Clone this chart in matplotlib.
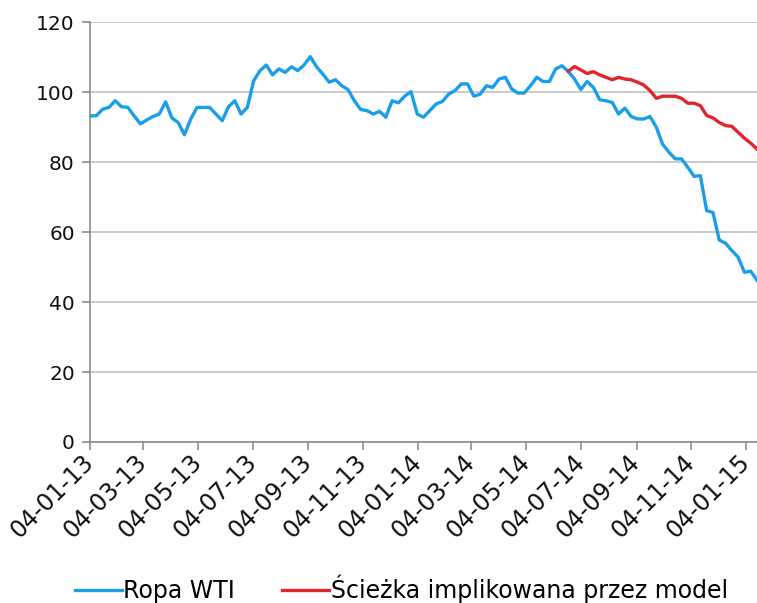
#!/usr/bin/env python3
"""
Ropa WTI vs ścieżka implikowana przez model (dane tygodniowe 2013-2015).
"""
import matplotlib
matplotlib.use("Agg")
import matplotlib.pyplot as plt
import matplotlib.dates as mdates
import pandas as pd

# --- dane (notowania tygodniowe od 04-01-2013) ---
start_date = "2013-01-04"

wti = [
    93.2, 93.2, 95.1, 95.6, 97.5, 95.8, 95.6, 93.2, 90.9, 92.0,
    93.0, 93.7, 97.2, 92.6, 91.3, 87.8, 92.3, 95.6, 95.6, 95.6,
    93.7, 91.8, 95.8, 97.5, 93.7, 95.6, 103.2, 106.1, 107.7, 104.9,
    106.6, 105.6, 107.2, 106.1, 107.7, 110.1, 107.2,
    105.1, 102.8, 103.5, 101.8, 100.7, 97.5, 95.0, 94.7, 93.7, 94.5,
    92.8, 97.5, 96.9, 98.8, 100.1, 93.7, 92.8, 94.7, 96.6, 97.3,
    99.4, 100.4, 102.3, 102.3, 98.8, 99.4, 101.8, 101.3, 103.7,
    104.2, 100.9, 99.7, 99.7, 101.8, 104.2,
    103.0, 103.0, 106.6, 107.5, 105.9, 103.7, 100.7, 103.0, 101.3, 97.8,
    97.5, 97.0, 93.7, 95.4, 93.0, 92.3, 92.3, 93.0, 89.9, 85.1,
    82.8, 80.9, 80.9, 78.5, 75.9, 76.1, 66.1, 65.6, 57.7, 56.8,
    54.7, 52.8, 48.5, 48.8, 46.2,
]

# ścieżka modelu zaczyna się od 31. notowania od końca
model = [
    105.9, 107.3, 106.3, 105.3, 105.8, 104.9, 104.2, 103.5, 104.2, 103.7,
    103.5, 102.8, 102.0, 100.4, 98.2, 98.8, 98.8, 98.8, 98.2, 96.8,
    96.8, 96.1, 93.3, 92.6, 91.3, 90.4, 90.2, 88.5, 86.8, 85.4,
    83.7,
]

y_ticks = [0, 20, 40, 60, 80, 100, 120]

BLUE = "#1a9ee8"
RED = "#e0252c"
GRID = "#c6c6c6"
AXIS = "#8c8c8c"


def main():
    dates = pd.date_range(start_date, periods=len(wti), freq="7D")
    model_dates = dates[len(wti) - len(model):]

    plt.rcParams["font.family"] = ["DejaVu Sans"]
    fig = plt.figure(figsize=(7.57, 6.03), dpi=100)
    ax = fig.add_axes([0.119, 0.267, 0.881, 0.6965])

    ax.plot(dates, wti, color=BLUE, lw=2.4, label="Ropa WTI", zorder=3)
    ax.plot(model_dates, model, color=RED, lw=2.4,
            label="Ścieżka implikowana przez model", zorder=3)

    ax.set_ylim(0, 120)
    ax.set_yticks(y_ticks)
    ax.set_xlim(dates[0], dates[-1])

    # osie co 2 miesiące, etykiety dd-mm-yy
    ax.xaxis.set_major_locator(mdates.MonthLocator(bymonth=[1, 3, 5, 7, 9, 11], bymonthday=4))
    ax.xaxis.set_major_formatter(mdates.DateFormatter("%d-%m-%y"))

    ax.grid(axis="y", color=GRID, lw=1.3, zorder=0)
    for side in ("top", "right"):
        ax.spines[side].set_visible(False)
    for side in ("left", "bottom"):
        ax.spines[side].set_color(AXIS)
        ax.spines[side].set_linewidth(1.2)

    ax.tick_params(axis="both", colors=AXIS, length=6, width=1.2,
                   labelcolor="#111111", labelsize=14.5, pad=5)
    ax.tick_params(axis="x", labelsize=17, pad=6)
    for lbl in ax.get_xticklabels():
        lbl.set_rotation(45)
        lbl.set_ha("right")
        lbl.set_va("center")
        lbl.set_rotation_mode("anchor")

    fig.legend(loc="lower center", bbox_to_anchor=(0.53, -0.035), ncol=2,
               frameon=False, fontsize=17, handlelength=2.0,
               handletextpad=0.05, columnspacing=2.0)

    fig.savefig("out.png", dpi=100)


if __name__ == "__main__":
    main()
